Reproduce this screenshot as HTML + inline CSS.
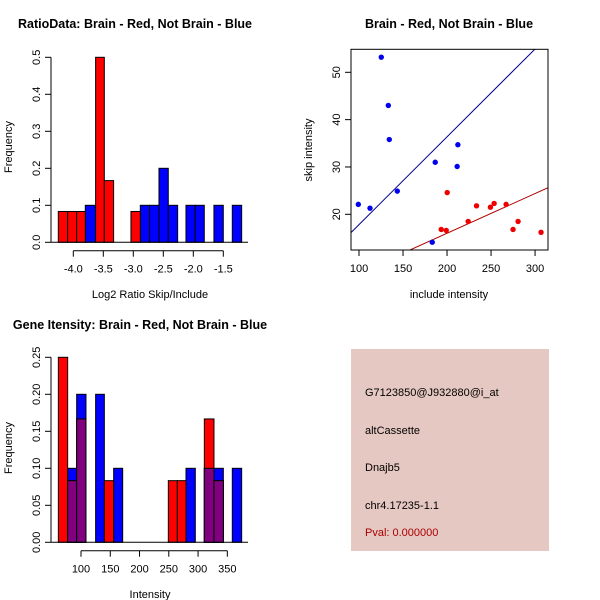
<!DOCTYPE html>
<html><head><meta charset="utf-8"><style>
body{margin:0;background:#fff;width:600px;height:600px;overflow:hidden}
svg{display:block;font-family:"Liberation Sans",sans-serif}
</style></head><body>
<svg id="s" width="600" height="600" viewBox="0 0 600 600">
<rect width="600" height="600" fill="#fff"/>
</svg>
<script>
// Panel 1: ratio histogram
const p1RedStarts=[-4.25,-4.094,-3.944,-3.628,-3.483,-3.039];
const p1RedEnds=[-4.094,-3.944,-3.8,-3.483,-3.328,-2.883];
const p1RedFreq=[0.0833,0.0833,0.0833,0.5,0.1667,0.0833];
const p1BlueStarts=[-3.8,-2.883,-2.728,-2.572,-2.417,-2.122,-1.967,-1.656,-1.35];
const p1BlueEnds=[-3.628,-2.728,-2.572,-2.417,-2.261,-1.967,-1.817,-1.5,-1.194];
const p1BlueFreq=[0.1,0.1,0.1,0.2,0.1,0.1,0.1,0.1,0.1];
const p1XTicks=[-4.0,-3.5,-3.0,-2.5,-2.0,-1.5];
const p1YTicks=[0,0.1,0.2,0.3,0.4,0.5];
// Panel 2: scatter
const blueX=[99.2,112.5,125.3,133.3,134.4,143.5,186.6,212.3,211.5,183.2];
const blueY=[22.1,21.3,53.2,43.0,35.8,24.9,31.0,34.7,30.1,14.1];
const redX=[200.2,193.4,199.1,224,233.5,249.3,253.5,267.1,275,280.7,306.8];
const redY=[24.6,16.8,16.6,18.5,21.8,21.5,22.3,22.1,16.8,18.5,16.2];
const blueFit=[-0.73,0.1855];
const redFit=[-0.78,0.0839];
const p2XTicks=[100,150,200,250,300];
const p2YTicks=[20,30,40,50];
// Panel 3: gene intensity histogram
const p3RedStarts=[61.3,77.2,92.6,139.9,249.2,264.6,310.7,327.2];
const p3RedEnds=[77.2,92.6,108.5,155.8,264.6,279.4,327.2,343.2];
const p3RedFreq=[0.25,0.0833,0.1667,0.0833,0.0833,0.0833,0.1667,0.0833];
const p3BlueStarts=[77.2,92.6,125,155.8,279.4,310.7,327.2,358.5];
const p3BlueEnds=[92.6,108.5,139.9,171.2,295.3,327.2,343.2,374.5];
const p3BlueFreq=[0.1,0.2,0.2,0.1,0.1,0.1,0.1,0.1];
const p3XTicks=[100,150,200,250,300,350];
const p3YTicks=[0,0.05,0.10,0.15,0.20,0.25];

const svg=document.getElementById('s');
const NS='http://www.w3.org/2000/svg';
function mk(tag,attrs,parent){const e=document.createElementNS(NS,tag);for(const k in attrs)e.setAttribute(k,attrs[k]);(parent||svg).appendChild(e);return e;}
function txt(str,x,y,opts,parent){const t=mk('text',Object.assign({x:x,y:y,'font-size':11,'text-anchor':'middle',fill:'#000'},opts||{}),parent);t.textContent=str;return t;}
function lin(x1,y1,x2,y2,parent,col){return mk('line',{x1:x1,y1:y1,x2:x2,y2:y2,stroke:col||'#000','stroke-width':1},parent);}
function yAxis(g,ys,ticks,x,fmt){lin(x,ys(ticks[0]),x,ys(ticks[ticks.length-1]),g);ticks.forEach(v=>{lin(x,ys(v),x-6,ys(v),g);const t=txt(fmt(v),0,0,{transform:`translate(${x-11},${ys(v)}) rotate(-90)`},g);});}
function xAxis(g,xs,ticks,y,fmt){lin(xs(ticks[0]),y,xs(ticks[ticks.length-1]),y,g);ticks.forEach(v=>{lin(xs(v),y,xs(v),y+6,g);const t=txt(fmt(v),xs(v),y+22,{},g);});}
function bar(g,x0,x1,h,ys,fill,name){const r=mk('rect',{x:x0,y:ys(h),width:x1-x0,height:ys(0)-ys(h),fill:fill,stroke:'#000','stroke-width':1},g);return r;}

// ---- Panel 1
{
const g=mk('g',{});


const xs=v=>73.3+(v+4)*60, ys=v=>242.3-v*370;
for(let i=0;i<p1BlueStarts.length;i++)bar(g,xs(p1BlueStarts[i]),xs(p1BlueEnds[i]),p1BlueFreq[i],ys,'#0000ff','blue-bar');
for(let i=0;i<p1RedStarts.length;i++)bar(g,xs(p1RedStarts[i]),xs(p1RedEnds[i]),p1RedFreq[i],ys,'#ff0000','red-bar');
lin(51,242.3,248,242.3,g);
yAxis(g,ys,p1YTicks,51,v=>v.toFixed(1));
xAxis(g,xs,p1XTicks,250.7,v=>v.toFixed(1));
const t1=txt('RatioData: Brain - Red, Not Brain - Blue',135,28,{'font-weight':'bold','font-size':12.5},g);
const a1=txt('Log2 Ratio Skip/Include',150,298,{},g);
const b1=txt('Frequency',0,0,{transform:'translate(12,147) rotate(-90)'},g);
}
// ---- Panel 2
{
const g=mk('g',{});


const X0=90.9,X1=314.7,Y0=12.46,Y1=54.86;
const L=351,R=548,T=49.3,B=250;
const xs=v=>L+(v-X0)/(X1-X0)*(R-L), ys=v=>B-(v-Y0)/(Y1-Y0)*(B-T);
mk('clipPath',{id:'c2'},g).appendChild(Object.assign(document.createElementNS(NS,'rect'),{}));
const cr=g.querySelector('#c2 rect');cr.setAttribute('x',L);cr.setAttribute('y',T);cr.setAttribute('width',R-L);cr.setAttribute('height',B-T);
const fit=(f,col,name)=>{const l=lin(xs(X0),ys(f[0]+f[1]*X0),xs(X1),ys(f[0]+f[1]*X1),g,col);l.setAttribute('clip-path','url(#c2)');};
fit(blueFit,'#00008b','blue-fit-line');
fit(redFit,'#b00000','red-fit-line');
for(let i=0;i<blueX.length;i++){const c=mk('circle',{cx:xs(blueX[i]),cy:ys(blueY[i]),r:2.7,fill:'#0000ee'},g);}
for(let i=0;i<redX.length;i++){const c=mk('circle',{cx:xs(redX[i]),cy:ys(redY[i]),r:2.7,fill:'#ee0000'},g);}
mk('rect',{x:L,y:T,width:R-L,height:B-T,fill:'none',stroke:'#000','stroke-width':1},g);
p2XTicks.forEach(v=>{lin(xs(v),B,xs(v),B+6,g);const t=txt(String(v),xs(v),B+22,{},g);});
p2YTicks.forEach(v=>{lin(L,ys(v),L-6,ys(v),g);const t=txt(String(v),0,0,{transform:`translate(${L-11},${ys(v)}) rotate(-90)`},g);});
const t2=txt('Brain - Red, Not Brain - Blue',449,28,{'font-weight':'bold','font-size':12.5},g);
const a2=txt('include intensity',449,298,{},g);
const b2=txt('skip intensity',0,0,{transform:'translate(312,150) rotate(-90)'},g);
}
// ---- Panel 3
{
const g=mk('g',{});


const xs=v=>81+(v-100)*0.5853, ys=v=>542.3-v*740;
for(let i=0;i<p3BlueStarts.length;i++)bar(g,xs(p3BlueStarts[i]),xs(p3BlueEnds[i]),p3BlueFreq[i],ys,'#0000ff','blue-bar');
for(let i=0;i<p3RedStarts.length;i++){
  bar(g,xs(p3RedStarts[i]),xs(p3RedEnds[i]),p3RedFreq[i],ys,'#ff0000','red-bar');
  const j=p3BlueStarts.findIndex(s=>Math.abs(s-p3RedStarts[i])<0.5);
  if(j>=0)bar(g,xs(p3RedStarts[i]),xs(p3RedEnds[i]),Math.min(p3RedFreq[i],p3BlueFreq[j]),ys,'#800080','overlap-bar');
}
lin(51,542.3,248,542.3,g);
yAxis(g,ys,p3YTicks,51,v=>v.toFixed(2));
xAxis(g,xs,p3XTicks,550.7,v=>String(v));
const t3=txt('Gene Itensity: Brain - Red, Not Brain - Blue',140,329,{'font-weight':'bold','font-size':12.5},g);
const a3=txt('Intensity',150,598,{},g);
const b3=txt('Frequency',0,0,{transform:'translate(12,448) rotate(-90)'},g);
}
// ---- Panel 4 info box
{
const g=mk('g',{});


mk('rect',{x:351,y:349,width:198,height:202,fill:'#e6c8c2'},g);
const lines=[['G7123850@J932880@i_at',396,'#000','probe-id'],['altCassette',434,'#000','event-type'],['Dnajb5',471,'#000','gene-name'],['chr4.17235-1.1',509,'#000','chromosome-location'],['Pval: 0.000000',536,'#aa0000','p-value']];
lines.forEach(l=>{const t=txt(l[0],365,l[1],{'text-anchor':'start',fill:l[2]},g);});
}
</script>
</body></html>
